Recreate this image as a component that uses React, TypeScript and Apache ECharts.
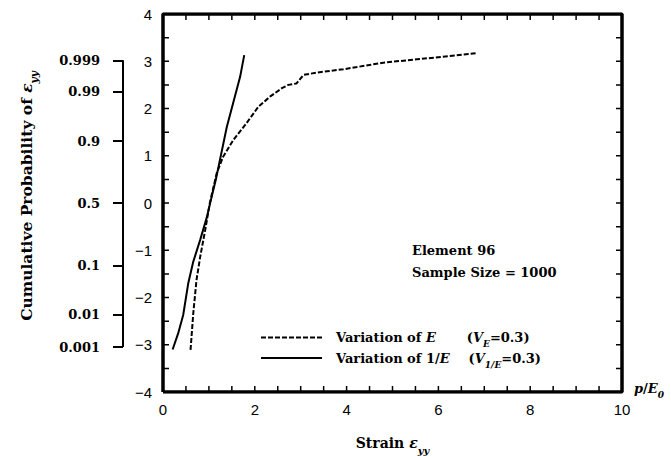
import React, { useEffect, useRef } from "react";
import * as echarts from "echarts";

// Dashed curve: variation of E (V_E = 0.3)
const dashedX = [0.6, 0.66, 0.73, 0.81, 0.92, 1.02, 1.17, 1.31, 1.53, 1.82, 2.08, 2.33, 2.59, 2.73, 2.91, 3.06, 3.35, 3.93, 4.8, 5.53, 6.25, 6.83];
const dashedY = [-3.11, -2.33, -1.63, -1.14, -0.57, 0.0, 0.63, 0.98, 1.33, 1.69, 2.04, 2.25, 2.43, 2.5, 2.53, 2.71, 2.76, 2.83, 2.97, 3.04, 3.11, 3.17];

// Solid curve: variation of 1/E (V_1/E = 0.3)
const solidX = [0.21, 0.33, 0.44, 0.55, 0.66, 0.81, 0.95, 1.06, 1.15, 1.39, 1.68, 1.77];
const solidY = [-3.1, -2.76, -2.37, -1.7, -1.24, -0.78, -0.32, 0.13, 0.49, 1.61, 2.67, 3.13];

// Cumulative probability scale (positions on the standard-normal axis)
const probLabels = ["0.001", "0.01", "0.1", "0.5", "0.9", "0.99", "0.999"];
const probZ = [-3.05, -2.36, -1.33, 0, 1.31, 2.35, 3.02];

// Tick positions (every 0.5) and labelled values
const xTicks = [0, 0.5, 1, 1.5, 2, 2.5, 3, 3.5, 4, 4.5, 5, 5.5, 6, 6.5, 7, 7.5, 8, 8.5, 9, 9.5, 10];
const yTicks = [-4, -3.5, -3, -2.5, -2, -1.5, -1, -0.5, 0, 0.5, 1, 1.5, 2, 2.5, 3, 3.5, 4];
const xMajorLabels = [0, 2, 4, 6, 8, 10];
const X_MIN = 0, X_MAX = 10, Y_MIN = -4, Y_MAX = 4;

const serif = "'DejaVu Serif', 'Liberation Serif', serif";
const sans = "'Liberation Sans', Arial, sans-serif";

const mkRich = (fs: number, sub: number, lh: number) => ({
  t: { fontFamily: serif, fontSize: fs, fontWeight: "bold" as const, color: "#000", lineHeight: lh, verticalAlign: "middle" as const },
  i: { fontFamily: serif, fontSize: fs, fontWeight: "bold" as const, fontStyle: "italic" as const, color: "#000", lineHeight: lh, verticalAlign: "middle" as const },
  s: { fontFamily: serif, fontSize: sub, fontWeight: "bold" as const, fontStyle: "italic" as const, color: "#000", lineHeight: lh, verticalAlign: "bottom" as const },
});
const richBase = mkRich(13, 9, 22);
const richTitle = mkRich(15.5, 10.5, 26);
const richX = mkRich(14, 10, 24);

const fmtNum = (v: number) => (v < 0 ? "\u2212" + Math.abs(v) : String(v));

// layout
const W = 671, H = 456, G_LEFT = 163, G_TOP = 14, G_RIGHT = 49, G_BOTTOM = 64;
const TICK = 6;
const TY = (TICK * (Y_MAX - Y_MIN)) / (H - G_TOP - G_BOTTOM);
const TX = (TICK * (X_MAX - X_MIN)) / (W - G_LEFT - G_RIGHT);

export default function App() {
  const ref = useRef<HTMLDivElement>(null);
  useEffect(() => {
    const chart = echarts.init(ref.current!, null, { renderer: "svg" });

    const frame = [[X_MIN, Y_MIN], [X_MAX, Y_MIN], [X_MAX, Y_MAX], [X_MIN, Y_MAX], [X_MIN, Y_MIN]];
    const tickSeg: any[] = [];
    xTicks.forEach((v) => {
      tickSeg.push([v, Y_MIN], [v, Y_MIN + TY], [v, "-"], [v, Y_MAX], [v, Y_MAX - TY], [v, "-"]);
    });
    yTicks.forEach((v) => {
      tickSeg.push([X_MIN, v], [X_MIN + TX, v], ["-", v], [X_MAX, v], [X_MAX - TX, v], ["-", v]);
    });

    const hiddenLine = { show: false, onZero: false };
    chart.setOption({
      animation: false,
      backgroundColor: "#fff",
      grid: [
        { left: G_LEFT, top: G_TOP, right: G_RIGHT, bottom: G_BOTTOM, outerBoundsMode: "none", containLabel: false },
        { left: 123, top: G_TOP, width: 1, bottom: G_BOTTOM, outerBoundsMode: "none", containLabel: false },
      ],
      xAxis: [
        {
          gridIndex: 0, type: "value", min: X_MIN, max: X_MAX, interval: 0.5, position: "bottom",
          axisLine: hiddenLine, axisTick: { show: false }, splitLine: { show: false },
          axisLabel: {
            formatter: (v: number) => (xMajorLabels.includes(v) ? String(v) : ""),
            fontFamily: sans, fontSize: 15, color: "#000", margin: 10,
          },
          name: "{i|p}{t|/}{i|E}{s|0}", nameLocation: "end", nameGap: 12,
          nameTextStyle: { rich: richBase, verticalAlign: "middle", padding: [0, 0, 8, 0] },
        },
        {
          gridIndex: 0, type: "value", min: X_MIN, max: X_MAX, position: "bottom",
          axisLine: hiddenLine, axisTick: { show: false }, axisLabel: { show: false }, splitLine: { show: false },
          name: "{t|Strain }{i|ε}{s|yy}", nameLocation: "middle", nameGap: 39,
          nameTextStyle: { rich: richX },
        },
        { gridIndex: 1, type: "value", min: 0, max: 1, show: false },
      ],
      yAxis: [
        {
          gridIndex: 0, type: "value", min: Y_MIN, max: Y_MAX, interval: 0.5, position: "left",
          axisLine: hiddenLine, axisTick: { show: false }, splitLine: { show: false },
          axisLabel: {
            formatter: (v: number) => (Number.isInteger(v) ? fmtNum(v) : ""),
            fontFamily: sans, fontSize: 15, color: "#000", margin: 11,
          },
        },
        {
          gridIndex: 1, type: "value", min: Y_MIN, max: Y_MAX, position: "left",
          axisLine: hiddenLine, splitLine: { show: false },
          axisTick: { show: true, inside: false, length: 10, customValues: probZ, lineStyle: { color: "#000", width: 2 } },
          axisLabel: {
            customValues: probZ,
            formatter: (v: number) => {
              const k = probZ.findIndex((z) => Math.abs(z - v) < 1e-6);
              return k >= 0 ? probLabels[k] : "";
            },
            fontFamily: serif, fontSize: 13, fontWeight: "bold", color: "#000", margin: 23,
          },
          name: "{t|Cumulative Probability of }{i|ε}{s|yy}", nameLocation: "middle", nameGap: 84, nameRotate: 90,
          nameTextStyle: { rich: richTitle, padding: [0, 0, 0, 14] },
        },
      ],
      legend: {
        data: ["Variation of E", "Variation of 1/E"],
        orient: "vertical", left: 255, top: 326, itemWidth: 61, itemHeight: 14, itemGap: 3,
        itemStyle: { opacity: 0 },
        formatter: (name: string) =>
          name === "Variation of E"
            ? "{g|}{t|Variation of }{i|E}{p1|}{t|(}{i|V}{s|E}{t|=0.3)}"
            : "{g|}{t|Variation of 1/}{i|E}{p2|}{t|(}{i|V}{s|1/E}{t|=0.3)}",
        textStyle: {
          rich: { ...richBase, g: { width: 9 }, p1: { width: 31 }, p2: { width: 19 } },
        },
      },
      graphic: [
        { type: "text", left: 412, top: 244, style: { text: "Element 96", font: `bold 13px ${serif}`, fill: "#000" } },
        { type: "text", left: 412, top: 266, style: { text: "Sample Size = 1000", font: `bold 13px ${serif}`, fill: "#000" } },
      ],
      series: [
        {
          name: "Variation of E", type: "line", xAxisIndex: 0, yAxisIndex: 0,
          data: dashedX.map((x, i) => [x, dashedY[i]]),
          symbol: "none", showSymbol: false,
          lineStyle: { color: "#000", width: 2, type: [5, 2] },
          itemStyle: { color: "#000" },
        },
        {
          name: "Variation of 1/E", type: "line", xAxisIndex: 0, yAxisIndex: 0,
          data: solidX.map((x, i) => [x, solidY[i]]),
          symbol: "none", showSymbol: false,
          lineStyle: { color: "#000", width: 2 },
          itemStyle: { color: "#000" },
        },
        {
          type: "line", xAxisIndex: 2, yAxisIndex: 1, silent: true,
          data: [[0, probZ[0]], [0, probZ[probZ.length - 1]]],
          symbol: "none", lineStyle: { color: "#000", width: 2 },
        },
        {
          name: "frame", type: "line", xAxisIndex: 0, yAxisIndex: 0, silent: true,
          data: frame, symbol: "none", lineStyle: { color: "#000", width: 3.5 },
        },
        {
          name: "ticks", type: "line", xAxisIndex: 0, yAxisIndex: 0, silent: true,
          data: tickSeg, symbol: "none", connectNulls: false, lineStyle: { color: "#000", width: 1.5 },
        },
      ],
    });
    return () => chart.dispose();
  }, []);
  return <div ref={ref} style={{ position: "fixed", left: 0, top: 0, width: W, height: H, background: "#fff" }} />;
}
